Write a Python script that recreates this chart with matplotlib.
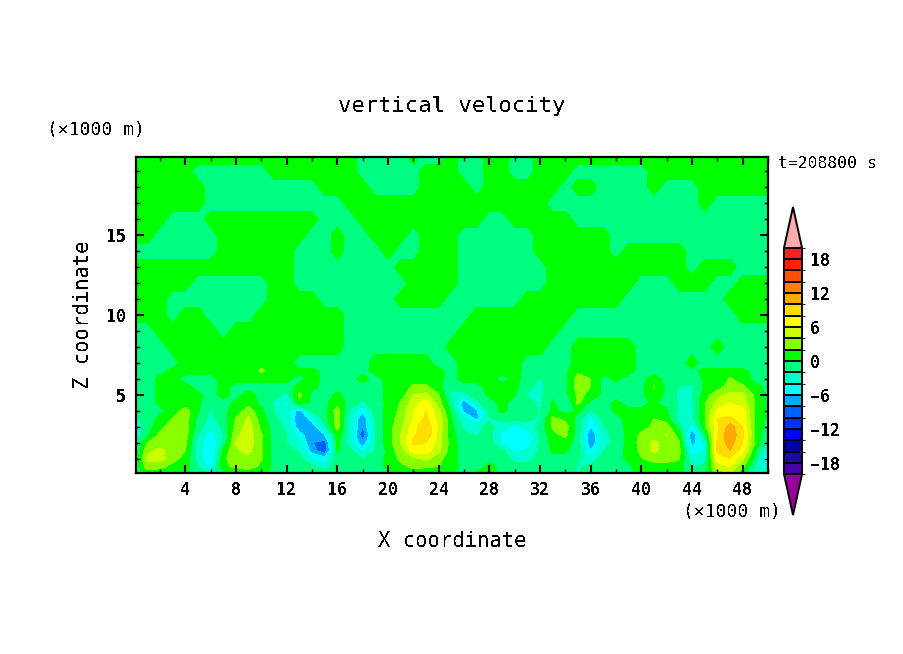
import numpy as np
import matplotlib
matplotlib.use("Agg")
import matplotlib.pyplot as plt
from matplotlib.colors import ListedColormap, BoundaryNorm
from matplotlib.ticker import MultipleLocator

x_km = [0.1] + list(range(1, 51))
z_low = [0.1, 0.5, 1, 1.5, 2, 2.5, 3, 3.5, 4, 4.5, 5, 5.5, 6, 6.5]
z_up = [7, 8, 9, 10, 11, 12, 13, 14, 15, 16, 17, 18, 19, 19.9]

# lower part, one list per x column, bottom to top
w_low = [
	[-1, -1, -1, -1.5, -2.5, -3, -3, -2.5, -1.5, -1, -1, -1, -1, -1],
	[1, 3, 4.5, 3.5, 2, -0.5, -1, -1, -1, -1, -1, -1, -1, -1],
	[1, 2.5, 5, 4.5, 3, 2.5, 1.5, 0.5, -0.5, 0.5, 0.5, 0.5, 0.5, -0.5],
	[0.5, 1.5, 2.5, 3, 3, 3, 2.8, 2.2, 1, 0.5, 0.5, 0.5, 0.5, 0.5],
	[0.5, 1, 1.5, 2, 2.5, 3, 3, 3, 2.8, 1, 0.7, 0.5, -0.5, 0.5],
	[-1, -2, -3, -3, -3, -2, -1, -0.5, 0.3, 0.3, 0.3, -0.5, -0.5, 0.5],
	[-2.5, -5, -5.9, -5.9, -5.9, -5, -3.5, -2.5, -2.2, -1, -0.5, -0.5, -0.5, 0.5],
	[-0.5, 1.5, 1.5, 0.5, -1.5, -2, -1.5, -1, -0.5, -0.5, 0.5, 0.5, 0.5, 0.5],
	[0.5, 2.5, 3.5, 3.8, 4.2, 3.5, 2.8, 2.2, 0.8, 0.3, -0.5, -0.5, 0.5, 0.5],
	[0.7, 3, 3.5, 4.5, 5, 5, 5, 4.3, 3, 1.2, 0.5, -0.5, 0.5, 0.5],
	[0.3, 1.5, 2.2, 2.2, 2.2, 2.2, 1.5, 1, 0.5, -0.5, -0.5, -0.5, 0.5, 2.5],
	[-0.5, -0.5, -0.7, -1, -1, -1, -1, -1.5, -2, -2.2, -1.5, -0.5, 0.5, 0.5],
	[-0.7, -1, -1, -1.5, -2, -2, -2.5, -3, -3.5, -4.5, -2.5, -0.5, 0.5, 0.5],
	[-0.5, -1, -1.5, -2.2, -3.5, -5, -7.5, -7.9, -7, 1.5, 2.5, 0.5, -0.5, 0.5],
	[-1, -1.5, -4, -7, -7.9, -7.9, -7.5, -5, -1.5, -0.5, -0.5, 0.5, 0.7, 0.5],
	[-1, -3.5, -5, -9.5, -9, -6, -2.5, -1, -0.7, -0.5, -0.5, -0.5, -0.5, -0.5],
	[-0.5, -0.5, -0.5, 0.3, 0.7, 1, 3, 3, 3, 1, 0.3, -0.5, -0.5, -0.5],
	[-0.5, -1, -1.2, -1.5, -3, -3, -3, -3, -2.5, -0.7, -0.5, -0.5, -0.5, -0.5],
	[-0.5, -1, -2, -4.5, -7.5, -9.5, -7.9, -7.9, -5.5, -2.5, -1, -0.5, 0.5, -0.5],
	[-0.5, -1, -1, -2, -2, -2.1, -2.1, -1.5, -1, -0.7, -0.5, -0.5, -0.5, 0.5],
	[-0.5, 0.5, 0.5, 0.5, 1, 1, 1, 0.8, 0.5, 0.3, 0.3, 0.3, 0.5, 0.5],
	[0.5, 1.5, 2.5, 3.2, 4, 4, 3.5, 3, 2.5, 2.2, 0.9, 0.5, 0.5, 0.5],
	[0.8, 2.5, 3.5, 7, 8.5, 7.5, 7, 6, 6, 5, 4, 2.5, 1, 0.5],
	[0.7, 2.3, 4.5, 7, 8, 10, 10, 8.5, 8, 7, 4.5, 2.5, 0.8, 0.5],
	[0.5, 2, 2.5, 4.5, 5, 5, 5.5, 5.5, 4.5, 3, 2.2, 0.5, 0.3, 0.5],
	[0.3, 0.8, 1, 1, 1, 0.8, 0.5, 0.2, -0.5, -1.5, -2.5, -1.5, -0.5, -0.5],
	[-0.5, -0.7, -1, -1, -1.2, -1.5, -2.5, -3.5, -6.5, -7.5, -3, -0.5, 0.5, 0.5],
	[0.3, -1, -1, -1.3, -1.5, -2.2, -2.5, -6.5, -6.5, -2.5, -0.7, -0.5, 0.5, 0.5],
	[0.5, 0.5, -0.5, -1, -1.2, -1.3, -1.5, -2.2, -1.3, -0.7, 0.3, 0.5, 0.5, 0.5],
	[-0.3, -0.5, -1, -1.5, -4.5, -4.5, -3, -1.3, 0.5, 0.5, 0.5, 0.5, -0.5, 0.5],
	[-1, -1.5, -2.5, -4.5, -5.5, -5.5, -4.5, -1.3, -0.7, -0.7, 0.2, 0.5, 0.5, 0.5],
	[-0.7, -1.5, -2.5, -3.5, -5.5, -5.5, -3, -1.5, -1.2, -1.5, -2.1, -1.5, -0.7, -0.5],
	[-0.5, -1, -1.5, -1.7, -1.7, -1.7, -1.5, -2.2, -2.2, -2.2, -2.5, -2.5, -2.2, -0.7],
	[-0.5, -0.5, -0.5, 0.3, 0.7, 1.5, 2.3, 2.5, 0.5, 0.3, -0.5, -0.7, -0.5, -0.5],
	[-0.5, -0.5, -0.5, 0.3, 1, 2.5, 3, 1.5, -0.7, -2.5, -0.7, -0.5, -0.5, -0.5],
	[-2.2, -2.2, -1.5, -1, -1, -1, -1, -0.7, 0.3, 2.5, 2.5, 3, 3, 1.5],
	[-1, -1.5, -3.5, -6, -7.9, -7.9, -6, -5, -2.2, -0.5, 1.5, 2, 2, 0.7],
	[-0.5, -0.7, -1, -2.2, -3, -3, -2.2, -1.3, -0.7, -0.5, -0.5, -0.5, -0.5, 0.5],
	[-0.5, -0.5, -0.5, -0.7, -1.2, -1, -0.7, -0.5, 0.3, 0.3, -0.5, -0.5, 0.3, 0.5],
	[-0.3, -0.3, 0.3, 0.5, 0.5, 0.5, 0.5, 0.5, 0.3, -0.5, -0.5, -0.5, -0.5, 0.5],
	[0.5, 0.8, 1.9, 2.5, 2.8, 2.5, 0.9, 0.5, 0.3, -0.5, -0.5, -0.5, -0.5, -0.5],
	[0.5, 1.5, 2.5, 4.5, 4.5, 3, 2.5, 2, 0.5, 0.3, 1.5, 2.2, 0.7, -0.5],
	[0.5, 1.5, 2.5, 3, 3, 4.2, 3, 1, 0.3, -0.7, -0.5, -0.5, -0.5, -0.5],
	[0.3, 1, 2.2, 2.5, 2.2, 1, -1, -3, -2.5, -2.2, -2.5, -2.1, -1, -0.5],
	[-0.5, -2.2, -3.5, -5, -7, -7.9, -5, -2.5, -2.5, -2.2, -2.1, -2.5, -1, -0.5],
	[-0.5, -1.5, -3, -4, -3.5, -1, 1.5, 1.8, 1.8, 1.8, 1, 0.3, 0.3, 0.5],
	[3, 5, 7, 8.5, 8.5, 8, 7.5, 8, 6.5, 4.5, 3.5, 1, 0.5, 0.3],
	[4, 6, 8, 10, 11, 11.5, 11, 8.5, 7, 6, 4.5, 3, 2.2, 0.5],
	[0.3, 2.5, 4.5, 7, 8, 8.5, 8, 7, 7, 5, 4.5, 2.5, 0.8, 0.4],
	[-3, -2, -0.7, 0.3, 1.8, 1.8, 1.8, 1.8, 1.8, 1.8, 1.5, 0.5, -0.5, -0.5],
	[-2.5, -4, -7, -4.5, -2.5, -2, -1, -0.5, -0.5, -0.5, -0.5, -0.5, -0.5, -0.5],
]

# upper part only flips between the two bands: g = 0..2, m = -2..0
w_up = [
	"mmmmgggggg gggmmmmmmg ggggmmgggg gmmmmggggg mmmmgmmmmm m",
	"mmmggggggg gggggggmmm mmmmmggggg gggmmggggg mmmmmmgmmm m",
	"mmgggggmgg gggggggmmm mmmmmmgggg ggggmmmmmm mmmmmmmmmm m",
	"gggmggmmmm gggggggmmm mmmmmmmggg gggggmmmmm mmmmmmmmgg g",
	"gggmmmmmmm mggggmmmmm mggggmmmmm mggggggggm mmmmmmmggg g",
	"gggggmmmmm mggmmmmmmm mmggggmmmm mmmggggggg mmmgggmmgg g",
	"gggggggggg gggmmmmmmm mgggggmmmm mmmggggggg ggggmgggmm m",
	"mmmmmmmggg gggmmmgmmm gmmgggmmmm mmggggggmg ggggmmmmmm m",
	"ggmmmmmggg ggggmmgmmg ggmgggmmmm mmggggggmm mmmmmmmmmm m",
	"gggmmmgggg gggggmmmgg ggggggggmm gggggmmmmm mmmmmmmmmm m",
	"ggggggmmmm mmmmmmmggg gggggggggg gggmmmmmmm mmmmmgmmmm m",
	"ggggggmmmm mmmmmggggm mmmggggmgg ggggmggmmm mgmmmggggg g",
	"gggggmmmmm mgggggggmm mmmgggmmgg mmgggmmmmm mggggggggg g",
	"gggggggggg ggggggggmm mmgmmgmmgg mmgggggggg gggggggggg g",
]

levels = list(range(-20, 21, 2))
band_colors = [
	"#4a00aa", "#1a0aaa", "#0000aa", "#0000ff", "#0030ff",
	"#0060ff", "#00aaff", "#00ffff", "#00ffcc", "#00ff80",
	"#00ff00", "#88ff00", "#ccff00", "#ffff00", "#ffdd00",
	"#ffaa00", "#ff8000", "#ff5000", "#ff2000", "#ff2020",
]
bar_ticks = [-18, -12, -6, 0, 6, 12, 18]

W, H = 904, 654
plt.rcParams["font.family"] = "DejaVu Sans Mono"
plt.rcParams["text.antialiased"] = False


def fx(px):
	return px / W


def fy(py):
	return 1 - py / H


def add_box(left, top, right, bottom):
	return fig.add_axes([fx(left), fy(bottom), (right - left) / W, (bottom - top) / H])


upper = np.array([[1.0 if c == "g" else -1.0 for c in row.replace(" ", "")] for row in w_up])
grid = np.vstack([np.array(w_low, dtype=float).T, upper])
z_km = z_low + z_up

cmap = ListedColormap(band_colors)
cmap.set_over("#ffaaaa")
cmap.set_under("#990099")
norm = BoundaryNorm(levels, cmap.N)

fig = plt.figure(figsize=(W / 100, H / 100), dpi=100)
ax = add_box(136, 157, 768, 473)
cf = ax.contourf(x_km, z_km, grid, levels=levels, cmap=cmap, norm=norm, extend="both", antialiased=False)
ax.set_xlim(0.1, 50)
ax.set_ylim(0.1, 19.9)

ax.xaxis.set_major_locator(MultipleLocator(4))
ax.xaxis.set_minor_locator(MultipleLocator(2))
ax.yaxis.set_major_locator(MultipleLocator(5))
ax.yaxis.set_minor_locator(MultipleLocator(1))
ax.tick_params(which="major", direction="in", length=6, width=1.5, top=True, right=True, labelsize=12)
ax.tick_params(axis="x", which="major", pad=6)
ax.tick_params(axis="y", which="major", pad=7)
ax.tick_params(which="minor", direction="in", length=3, width=1, top=True, right=True)
for lab in ax.get_xticklabels() + ax.get_yticklabels():
	lab.set_fontweight("bold")
for sp in ax.spines.values():
	sp.set_linewidth(1.6)

# colour bar with the two pointed ends, box includes the points
cax = add_box(784, 207, 802, 515)
cb = fig.colorbar(cf, cax=cax, extend="both", extendfrac=0.18, drawedges=True, ticks=bar_ticks)
cb.outline.set_linewidth(1.4)
cb.dividers.set_linewidth(1.4)
cax.tick_params(length=0, labelsize=12, pad=6)
for lab in cax.get_yticklabels():
	lab.set_fontweight("bold")

fig.text(fx(452), fy(106), "vertical velocity", fontsize=16, ha="center", va="center")
fig.text(fx(452), fy(541), "X coordinate", fontsize=14.8, ha="center", va="center")
fig.text(fx(83), fy(315), "Z coordinate", fontsize=14.8, rotation=90, ha="center", va="center")
fig.text(fx(47), fy(130), "(×1000 m)", fontsize=13, ha="left", va="center")
fig.text(fx(781), fy(512), "(×1000 m)", fontsize=13, ha="right", va="center")
fig.text(fx(778), fy(164), "t=208800 s", fontsize=11.8, ha="left", va="center")

fig.savefig("out.png", dpi=100)
